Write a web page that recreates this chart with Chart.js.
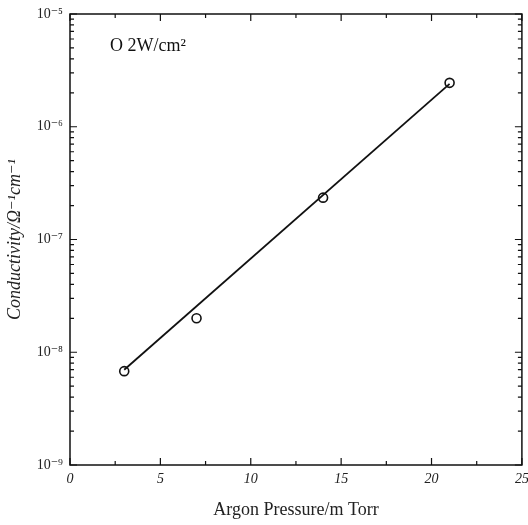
<!DOCTYPE html>
<html>
<head>
<meta charset="utf-8">
<script src="https://cdn.jsdelivr.net/npm/chart.js@4/dist/chart.umd.min.js"></script>
<style>
  body { margin: 0; background: #fff; }
  canvas { display: block; }
</style>
</head>
<body>
<canvas id="condChart" width="528" height="525"></canvas>
<script>
// measured points
const pressure = [3, 7, 14, 21];
const conductivity = [6.8e-9, 2.0e-8, 2.35e-7, 2.45e-6];
// fitted line
const fitPressure = [3, 21];
const fitConductivity = [7.0e-9, 2.4e-6];
// axis labels
const xTicks = [0, 5, 10, 15, 20, 25];
const decades = [1e-9, 1e-8, 1e-7, 1e-6, 1e-5];
const decadeLabels = ["10\u207B\u2079", "10\u207B\u2078", "10\u207B\u2077", "10\u207B\u2076", "10\u207B\u2075"];

const serif = "'Liberation Serif', 'DejaVu Serif', serif";

// FRAME + INWARD TICKS
const frameTicks = {
    id: "frameTicks",
    afterDatasetsDraw(chart) {
        const { ctx, chartArea: a, scales } = chart;
        const x = scales.x, y = scales.y;
        ctx.save();
        ctx.strokeStyle = "#111";
        ctx.lineWidth = 1.5;
        ctx.strokeRect(a.left, a.top, a.right - a.left, a.bottom - a.top);
        ctx.lineWidth = 1.2;
        ctx.beginPath();
        // x ticks, major every 5, minor every 2.5
        for (let v = 0; v <= 25; v += 2.5) {
            const px = x.getPixelForValue(v);
            const len = v % 5 === 0 ? 7 : 4;
            ctx.moveTo(px, a.bottom); ctx.lineTo(px, a.bottom - len);
            ctx.moveTo(px, a.top); ctx.lineTo(px, a.top + len);
        }
        // y ticks on log scale
        decades.forEach((d, i) => {
            const limit = i < decades.length - 1 ? 9 : 1;
            for (let m = 1; m <= limit; m++) {
                const py = y.getPixelForValue(d * m);
                const len = m === 1 ? 7 : 4;
                ctx.moveTo(a.left, py); ctx.lineTo(a.left + len, py);
                ctx.moveTo(a.right, py); ctx.lineTo(a.right - len, py);
            }
        });
        ctx.stroke();
        // legend text
        ctx.fillStyle = "#111";
        ctx.font = "18px " + serif;
        ctx.textBaseline = "middle";
        ctx.fillText("O 2W/cm\u00B2", a.left + 40, a.top + 32);
        ctx.restore();
    }
};

new Chart(document.getElementById("condChart"), {
    type: "scatter",
    data: {
        datasets: [{
            type: "line",
            data: fitPressure.map((p, i) => ({ x: p, y: fitConductivity[i] })),
            borderColor: "#111",
            borderWidth: 1.8,
            pointRadius: 0,
            fill: false
        }, {
            data: pressure.map((p, i) => ({ x: p, y: conductivity[i] })),
            pointRadius: 4.5,
            pointBorderWidth: 1.6,
            pointBackgroundColor: "#fff",
            pointBorderColor: "#111"
        }]
    },
    options: {
        responsive: false,
        animation: false,
        layout: { padding: { top: 14, right: 5 } },
        plugins: { legend: { display: false }, tooltip: { enabled: false } },
        scales: {
            x: {
                type: "linear",
                min: 0, max: 25,
                afterBuildTicks: s => { s.ticks = xTicks.map(v => ({ value: v })); },
                afterFit: s => { s.height = 60; s.paddingRight = 0; s.paddingLeft = 0; },
                grid: { display: false, drawTicks: false },
                border: { display: false },
                ticks: {
                    color: "#222",
                    padding: 6,
                    font: { family: serif, size: 14, style: "italic" }
                },
                title: {
                    display: true,
                    text: "Argon Pressure/m Torr",
                    color: "#222",
                    padding: { top: 14 },
                    font: { family: serif, size: 18 }
                }
            },
            y: {
                type: "logarithmic",
                min: 1e-9, max: 1e-5,
                afterBuildTicks: s => { s.ticks = decades.map(v => ({ value: v })); },
                afterFit: s => { s.width = 70; s.paddingTop = 0; s.paddingBottom = 0; },
                grid: { display: false, drawTicks: false },
                border: { display: false },
                ticks: {
                    color: "#222",
                    padding: 7,
                    font: { family: serif, size: 14 },
                    callback: v => decadeLabels[decades.findIndex(d => Math.abs(Math.log10(d) - Math.log10(v)) < 1e-6)]
                },
                title: {
                    display: true,
                    text: "Conductivity/\u03A9\u207B\u00B9cm\u207B\u00B9",
                    color: "#222",
                    padding: { bottom: 2 },
                    font: { family: serif, size: 18, style: "italic" }
                }
            }
        }
    },
    plugins: [frameTicks]
});
</script>
</body>
</html>
